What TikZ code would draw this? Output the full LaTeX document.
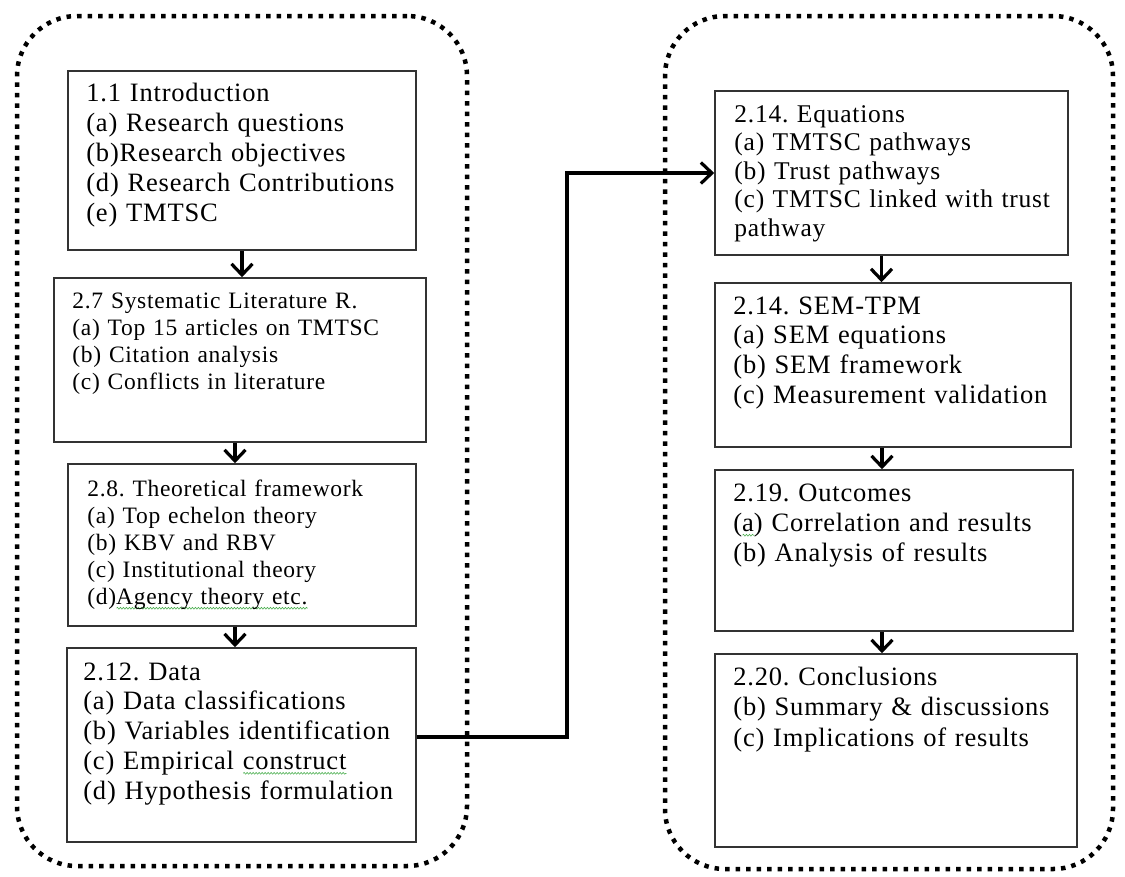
\documentclass[tikz,border=0pt]{standalone}
\usepackage{fontspec}
\usetikzlibrary{arrows.meta,decorations.pathmorphing}

\newfontfamily\boxfont{Liberation Serif}[LetterSpace=3]
\definecolor{boxline}{HTML}{333333}
\definecolor{spellgreen}{HTML}{4CAF50}
\frenchspacing

\tikzset{
  group/.style={rectangle, draw=black, line width=4.5pt,
    dash pattern=on 4.5pt off 6pt, rounded corners=60pt, inner sep=0pt},
  stage/.style={rectangle, draw=boxline, line width=1.6pt, inner sep=0pt},
  lines/.style 2 args={font=\boxfont\fontsize{#1}{#2}\selectfont,
    text width=400pt, align=left, inner sep=0pt, anchor=base west},
  flow/.style={draw=black, line width=3.2pt,
    -{Straight Barb[length=11pt,width=21pt]}},
  spell/.style={draw=spellgreen, line width=0.6pt, decorate,
    decoration={snake, amplitude=0.9pt, segment length=3pt}},
}

% wavy spelling mark under a word
\newcommand{\spellmark}[1]{\setbox0\hbox{#1}%
  \rlap{\tikz[baseline=0pt]\draw[spell] (0pt,-4pt) -- (\the\wd0,-4pt);}\box0}

\begin{document}
\begin{tikzpicture}[x=1pt, y=-1pt]
  \useasboundingbox (0,0) rectangle (1125,876);

  % the two dotted groups
  \node[group, minimum width=450pt, minimum height=850pt] (leftgroup) at (242,441) {};
  \node[group, minimum width=448pt, minimum height=853pt] (rightgroup) at (889,442.5) {};

  % left column
  \node[stage, minimum width=348pt, minimum height=179pt] (intro) at (242,160.5) {};
  \node[stage, minimum width=372pt, minimum height=164pt] (slr) at (240,360) {};
  \node[stage, minimum width=348pt, minimum height=162pt] (theory) at (242,545) {};
  \node[stage, minimum width=349pt, minimum height=194pt] (data) at (241.5,745) {};

  % right column
  \node[stage, minimum width=353pt, minimum height=164pt] (eqs) at (891.5,173) {};
  \node[stage, minimum width=356pt, minimum height=164pt] (sem) at (893,365) {};
  \node[stage, minimum width=358pt, minimum height=161pt] (outcomes) at (894,550.5) {};
  \node[stage, minimum width=362pt, minimum height=193pt] (concl) at (896,750.5) {};

  % texts
  \node[lines={26.5}{30}] (introtext) at ([shift={(19,31)}]intro.north west)
    {1.1 Introduction\\(a) Research questions\\(b)Research objectives\\(d) Research Contributions\\(e) TMTSC};
  \node[lines={23.5}{27}] (slrtext) at ([shift={(19,31)}]slr.north west)
    {2.7 Systematic Literature R.\\(a) Top 15 articles on TMTSC\\(b) Citation analysis\\(c) Conflicts in literature};
  \node[lines={23.5}{27}] (theorytext) at ([shift={(20,33)}]theory.north west)
    {2.8. Theoretical framework\\(a) Top echelon theory\\(b) KBV and RBV\\(c) Institutional theory\\(d)\spellmark{Agency theory etc.}};
  \node[lines={26.5}{29.7}] (datatext) at ([shift={(17,33)}]data.north west)
    {2.12. Data\\(a) Data classifications\\(b) Variables identification\\(c) Empirical \spellmark{construct}\\(d) Hypothesis formulation};

  \node[lines={25.5}{28.5}] (eqstext) at ([shift={(20,32)}]eqs.north west)
    {2.14. Equations\\(a) TMTSC pathways\\(b) Trust pathways\\(c) TMTSC linked with trust\\pathway};
  \node[lines={26.5}{29.7}] (semtext) at ([shift={(19,32)}]sem.north west)
    {2.14. SEM-TPM\\(a) SEM equations\\(b) SEM framework\\(c) Measurement validation};
  \node[lines={26.5}{30}] (outtext) at ([shift={(19,32)}]outcomes.north west)
    {2.19. Outcomes\\(\spellmark{a}) Correlation and results\\(b) Analysis of results};
  \node[lines={26.5}{30.5}] (concltext) at ([shift={(19,32)}]concl.north west)
    {2.20. Conclusions\\(b) Summary \& discussions\\(c) Implications of results};

  % arrows down each column
  \draw[flow] (intro.south) -- (slr.north -| intro.south);
  \draw[flow] ([xshift=-5pt]slr.south) -- ([xshift=-5pt]slr.south |- theory.north);
  \draw[flow] ([xshift=-7pt]theory.south) -- ([xshift=-7pt]theory.south |- data.north);
  \draw[flow] ([xshift=-10pt]eqs.south) -- ([xshift=-10pt]eqs.south |- sem.north);
  \draw[flow] ([xshift=-11pt]sem.south) -- ([xshift=-11pt]sem.south |- outcomes.north);
  \draw[flow] ([xshift=-12pt]outcomes.south) -- ([xshift=-12pt]outcomes.south |- concl.north);

  % link from the data stage across to the equations stage
  \coordinate (bend) at (567,173);
  \draw[flow] ([yshift=8pt]data.east) -| (bend) -- (eqs.west);
\end{tikzpicture}
\end{document}
